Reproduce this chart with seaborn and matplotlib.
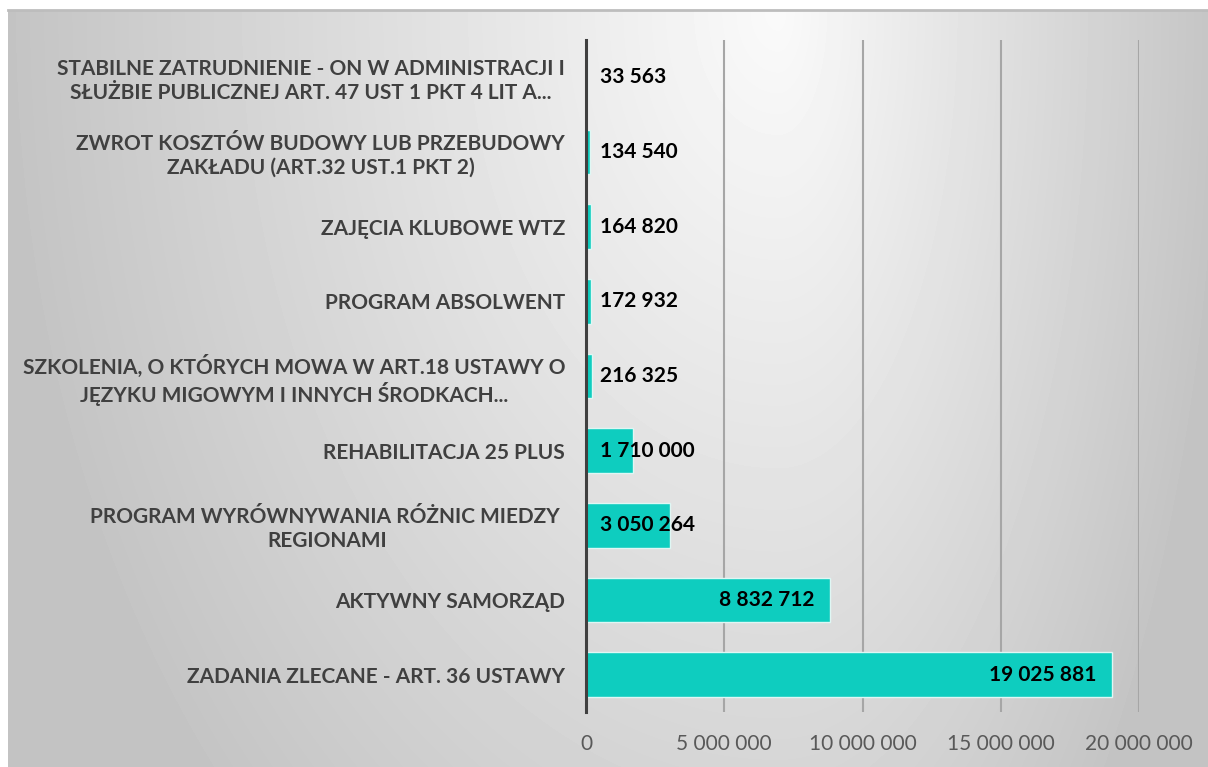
import numpy as np
import pandas as pd
import seaborn as sns
import matplotlib.pyplot as plt
from matplotlib.ticker import FuncFormatter, MultipleLocator

categories = [
    "STABILNE ZATRUDNIENIE - ON W ADMINISTRACJI I\nSŁUŻBIE PUBLICZNEJ ART. 47 UST 1 PKT 4 LIT A...",
    "ZWROT KOSZTÓW BUDOWY LUB PRZEBUDOWY\nZAKŁADU (ART.32 UST.1 PKT 2)",
    "ZAJĘCIA KLUBOWE WTZ",
    "PROGRAM ABSOLWENT",
    "SZKOLENIA, O KTÓRYCH MOWA W ART.18 USTAWY O\nJĘZYKU MIGOWYM I INNYCH ŚRODKACH...",
    "REHABILITACJA 25 PLUS",
    "PROGRAM WYRÓWNYWANIA RÓŻNIC MIEDZY \nREGIONAMI",
    "AKTYWNY SAMORZĄD",
    "ZADANIA ZLECANE - ART. 36 USTAWY",
]
values = [33563, 134540, 164820, 172932, 216325, 1710000, 3050264, 8832712, 19025881]

df = pd.DataFrame({"kategoria": categories, "kwota": values})

sns.set_style("white")
plt.rcParams["font.family"] = ["Lato", "DejaVu Sans"]

W, H = 1208, 767
fig = plt.figure(figsize=(W / 100, H / 100), dpi=100)
fig.patch.set_facecolor("white")

# tlo - gradient szary
bg = fig.add_axes([8 / W, 0, 1 - 8 / W, 1 - 10 / H])
yy, xx = np.mgrid[0:757, 0:1200]
cx = 770
rx = np.where(xx < cx, 780.0, 450.0)
r = np.sqrt(((xx - cx) / rx) ** 2 + (yy / 1150.0) ** 2)
g = (250 - 55 * np.clip(r, 0, 1)) / 255.0
bg.imshow(g, cmap="gray", vmin=0, vmax=1, aspect="auto", interpolation="bilinear")
bg.set_xticks([])
bg.set_yticks([])
for s in ["left", "right", "bottom"]:
    bg.spines[s].set_visible(False)
bg.spines["top"].set_color("#bdbdbd")
bg.spines["top"].set_linewidth(2)

ax = fig.add_axes([586 / W, 1 - 712 / H, (1139 - 586) / W, (712 - 40) / H])
ax.set_facecolor("none")
sns.barplot(data=df, y="kategoria", x="kwota", orient="h", color="#0ecdbf",
            saturation=1, width=0.6, edgecolor="#dff7f4", linewidth=1, ax=ax, zorder=3)

ax.set_xlim(0, 20000000)
ax.set_ylim(8.5, -0.5)
ax.xaxis.set_major_locator(MultipleLocator(5000000))
ax.xaxis.set_major_formatter(FuncFormatter(lambda v, p: f"{v:,.0f}".replace(",", " ")))
ax.grid(axis="x", color="#a6a6a6", linewidth=1.5, zorder=0)
ax.set_axisbelow(True)
ax.set_xlabel("")
ax.set_ylabel("")

for s in ["top", "right", "bottom"]:
    ax.spines[s].set_visible(False)
ax.spines["left"].set_color("#404040")
ax.spines["left"].set_linewidth(2.2)
ax.spines["left"].set_zorder(5)

ax.tick_params(axis="x", length=0, pad=16, labelsize=15, labelcolor="#595959")
ax.tick_params(axis="y", length=0, pad=15, labelsize=15, labelcolor="#404040")
for t in ax.get_yticklabels():
    t.set_fontweight("bold")
    t.set_multialignment("center")

vmax = max(values)
for i, v in enumerate(values):
    txt = f"{v:,}".replace(",", " ")
    if v > 0.2 * vmax:
        ax.annotate(txt, (v, i), xytext=(-11, 0), textcoords="offset points",
                    ha="right", va="center", fontsize=15, fontweight="bold", color="black", zorder=6)
    else:
        ax.annotate(txt, (0, i), xytext=(10, 0), textcoords="offset points",
                    ha="left", va="center", fontsize=15, fontweight="bold", color="black", zorder=6)

fig.savefig("out.png", dpi=100)
